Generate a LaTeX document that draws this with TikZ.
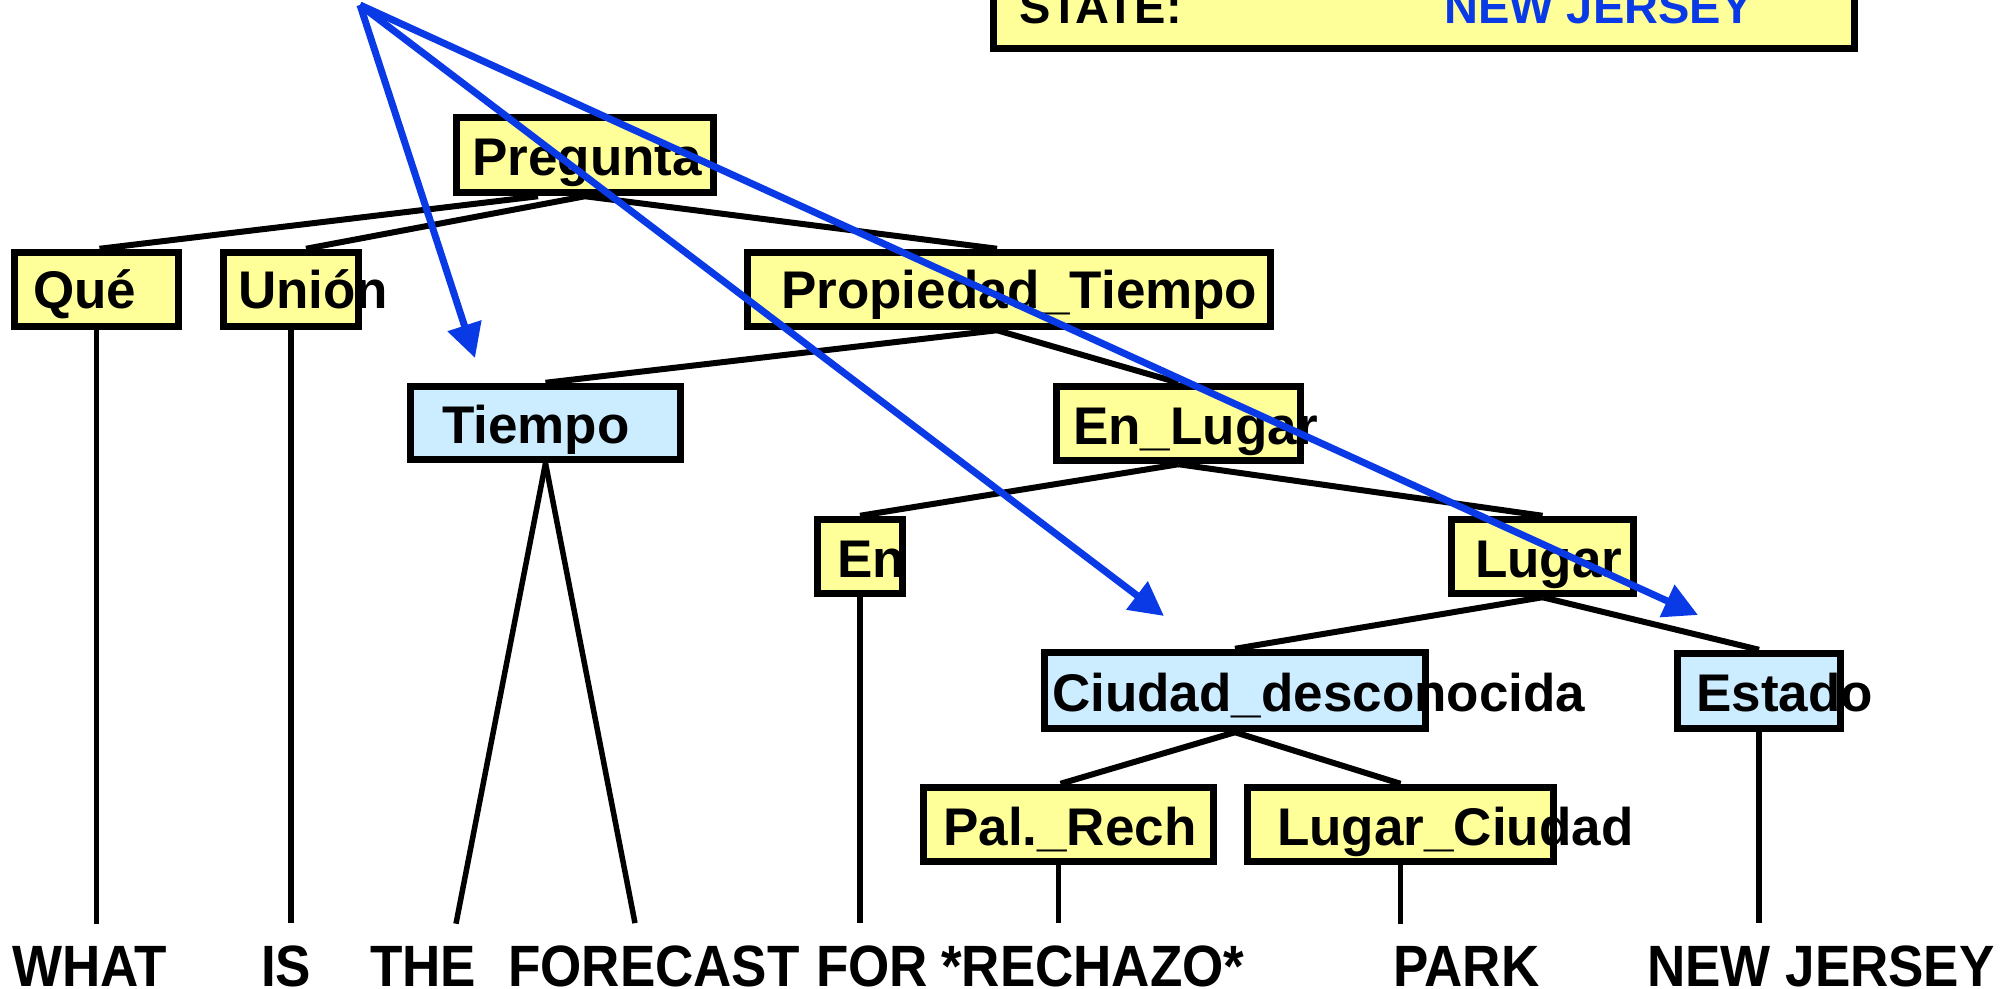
\documentclass[tikz,border=0pt]{standalone}
\usepackage{fontspec}
\setmainfont{Liberation Sans}
\usetikzlibrary{arrows.meta,calc}
\definecolor{boxyellow}{HTML}{FFFF99}
\definecolor{boxblue}{HTML}{CCECFF}
\definecolor{linkblue}{HTML}{0A3AE6}
\tikzset{
  cat/.style={draw=black, line width=7.5bp, fill=boxyellow, inner sep=0pt, minimum height=74bp},
  catblue/.style={cat, fill=boxblue},
  lbl/.style={anchor=base west, inner sep=0pt, font=\fontsize{53bp}{60bp}\selectfont\bfseries},
  toplbl/.style={anchor=base west, inner sep=0pt, font=\fontsize{47bp}{54bp}\selectfont\bfseries},
  branch/.style={line width=6bp},
  leaf/.style={line width=5.5bp},
  link/.style={draw=linkblue, line width=7bp, -{Triangle[length=34bp,width=34bp]}}
}
\newcommand{\tallword}[1]{\scalebox{1}[1.1]{#1}}

\begin{document}
\begin{tikzpicture}[x=1bp,y=-1bp]
\useasboundingbox (0,0) rectangle (2007,989);

% result frame at the top
\node[cat, minimum width=861bp, minimum height=105bp] (state) at (1424,-4) {};

% category boxes
\node[cat, minimum width=257bp, minimum height=75bp] (preg) at (585,155) {};
\node[cat, minimum width=164bp] (que) at (96.5,289.5) {};
\node[cat, minimum width=135bp] (union) at (291,289.5) {};
\node[cat, minimum width=523bp] (prop) at (1009,289.5) {};
\node[catblue, minimum width=270bp, minimum height=73bp] (tiempo) at (545.5,423) {};
\node[cat, minimum width=244bp] (enlugar) at (1178.5,423.5) {};
\node[cat, minimum width=85bp] (en) at (860,556.5) {};
\node[cat, minimum width=182bp] (lugar) at (1542.5,556.5) {};
\node[catblue, minimum width=381bp, minimum height=76bp] (ciudad) at (1235,690.5) {};
\node[catblue, minimum width=163bp, minimum height=75bp] (estado) at (1759,691) {};
\node[cat, minimum width=290bp] (pal) at (1068.5,824.5) {};
\node[cat, minimum width=306bp] (lc) at (1400.5,824.5) {};

% labels
\node[toplbl] (state-t) at (1019,23) {STATE:};
\node[toplbl, text=linkblue] (state-v) at (1444,23) {NEW JERSEY};
\node[lbl] (preg-t) at (472,175) {Pregunta};
\node[lbl] (que-t) at (33,308) {Qué};
\node[lbl] (union-t) at (238,308) {Unión};
\node[lbl] (prop-t) at (781,308) {Propiedad\_Tiempo};
\node[lbl] (tiempo-t) at (442,443) {Tiempo};
\node[lbl] (enlugar-t) at (1073,444) {En\_Lugar};
\node[lbl] (en-t) at (837,577) {En};
\node[lbl] (lugar-t) at (1475,577) {Lugar};
\node[lbl] (ciudad-t) at (1052,711) {Ciudad\_desconocida};
\node[lbl] (estado-t) at (1696,711) {Estado};
\node[lbl] (pal-t) at (943,845) {Pal.\_Rech};
\node[lbl] (lc-t) at (1277,845) {Lugar\_Ciudad};

% words of the sentence
\node[lbl] (w-what) at (12,986) {\tallword{WHAT}};
\node[lbl] (w-is) at (261,986) {\tallword{IS}};
\node[lbl] (w-the) at (370,986) {\tallword{THE}};
\node[lbl] (w-forecast) at (508,986) {\tallword{FORECAST}};
\node[lbl] (w-for) at (816,986) {\tallword{FOR}};
\node[lbl] (w-rechazo) at (941,986) {\tallword{*RECHAZO*}};
\node[lbl] (w-park) at (1393,986) {\tallword{PARK}};
\node[lbl] (w-nj) at (1647,986) {\tallword{NEW JERSEY}};

% tree branches
\draw[branch] ([xshift=-47bp]preg.south) -- ([xshift=3bp]que.north);
\draw[branch] (preg.south) -- ([xshift=15bp]union.north);
\draw[branch] (preg.south) -- ([xshift=-12bp]prop.north);
\draw[branch] ([xshift=-12bp]prop.south) -- (tiempo.north);
\draw[branch] ([xshift=-12bp]prop.south) -- (enlugar.north);
\draw[branch] (enlugar.south) -- (en.north);
\draw[branch] (enlugar.south) -- (lugar.north);
\draw[branch] (lugar.south) -- (ciudad.north);
\draw[branch] (lugar.south) -- (estado.north);
\draw[branch] (ciudad.south) -- ([xshift=-8bp]pal.north);
\draw[branch] (ciudad.south) -- (lc.north);

% leaves down to the words (stopping above the words)
\draw[leaf] (que.south) -- ($(que.south |- w-what.north)+(0,-22)$);
\draw[leaf] (union.south) -- ($(union.south |- w-is.north)+(0,-22)$);
\draw[leaf] (tiempo.south) -- ($(w-the.north west)+(86,-22)$);
\draw[leaf] (tiempo.south) -- ($(w-forecast.north west)+(127,-22)$);
\draw[leaf] (en.south) -- ($(en.south |- w-for.north)+(0,-22)$);
\draw[leaf] ([xshift=-10bp]pal.south) -- ($([xshift=-10bp]pal.south |- w-rechazo.north)+(0,-22)$);
\draw[leaf] (lc.south) -- ($(lc.south |- w-park.north)+(0,-22)$);
\draw[leaf] (estado.south) -- ($(estado.south |- w-nj.north)+(0,-22)$);

% slot links
\coordinate (src) at (360,5);
\coordinate (tip-tiempo) at (475,358);
\coordinate (tip-ciudad) at (1164,616);
\coordinate (tip-estado) at (1698,615);
\draw[link] (src) -- (tip-tiempo);
\draw[link] (src) -- (tip-ciudad);
\draw[link] (src) -- (tip-estado);
\end{tikzpicture}
\end{document}
